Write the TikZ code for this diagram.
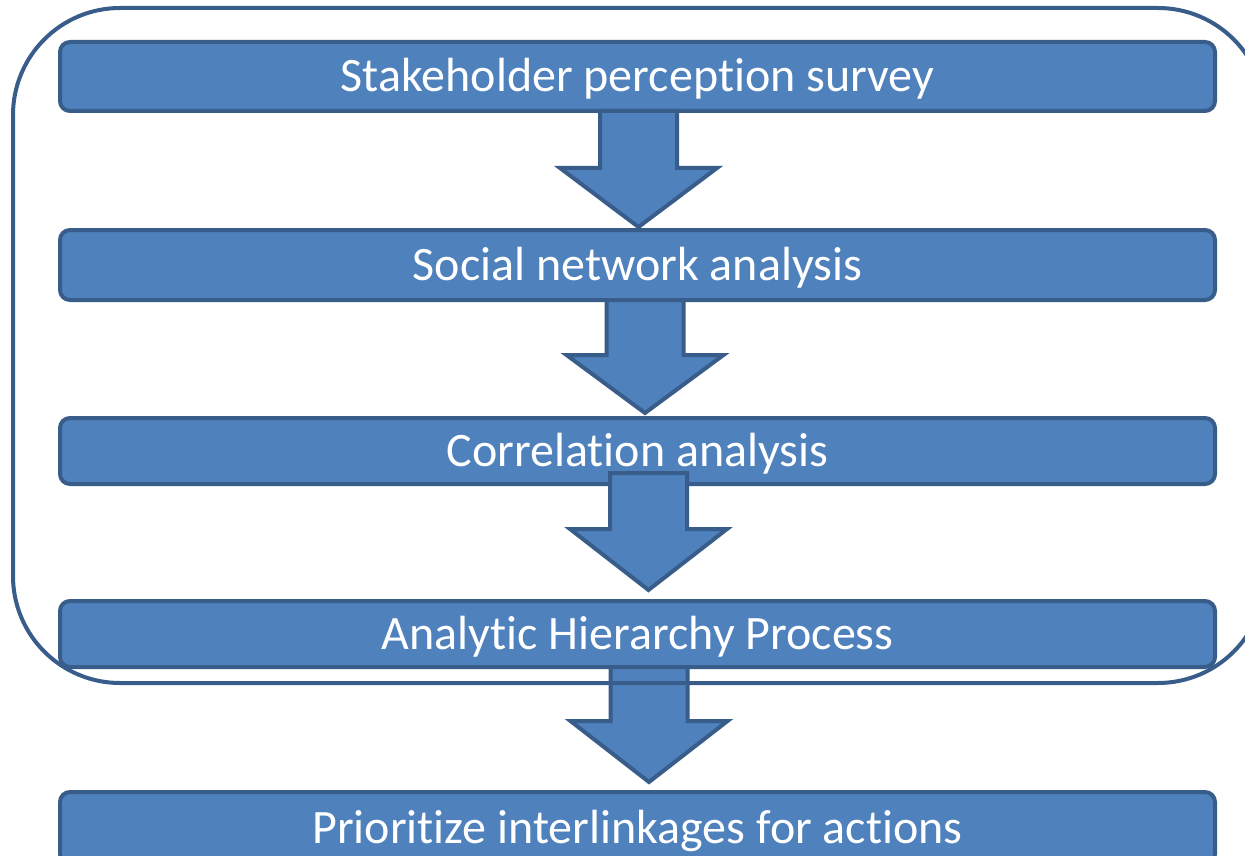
\documentclass[tikz,border=0pt]{standalone}
\usepackage{fontspec}
\setmainfont{Carlito}[Ligatures={NoCommon,NoRequired,NoContextual},Contextuals={NoAlternate}]
\definecolor{boxfill}{HTML}{4F81BD}
\definecolor{boxline}{HTML}{385D8A}
\newcommand{\tiNL}{t\kern0pt i}
\tikzset{
  stepbox/.style={draw=boxline, fill=boxfill, line width=4pt, rounded corners=10pt,
    minimum width=1155pt, inner sep=0pt, text=white, text height=31pt, text depth=0pt,
    font=\fontsize{48}{58}\selectfont},
  barrow/.style={draw=boxline, fill=boxfill, line width=4pt, line join=miter},
  bigframe/.style={draw=boxline, line width=4pt, rounded corners=107pt}
}
\newcommand{\blockarrow}[4]{%
  \draw[barrow] (#1-38.5,#2) -- (#1+38.5,#2) -- (#1+38.5,#3) -- (#1+78.5,#3) -- (#1,#4)
    -- (#1-78.5,#3) -- (#1-38.5,#3) -- cycle;}
\begin{document}
\begin{tikzpicture}[x=1pt, y=-1pt]
\useasboundingbox (0,0) rectangle (1245,856);
\clip (0,0) rectangle (1245,856);
\node[stepbox, minimum height=69pt] (b1) at (637.5,76.5) {Stakeholder perception survey};
\node[stepbox, minimum height=70pt] (b2) at (637.5,265) {Social network analysis};
\node[stepbox, minimum height=66pt] (b3) at (637.5,451) {Correla{\tiNL}on analysis};
\node[stepbox, minimum height=66pt] (b4) at (637.5,634) {Analy{\tiNL}c Hierarchy Process};
\node[stepbox, minimum height=72pt] (b5) at (637.5,828) {Priori{\tiNL}ze interlinkages for ac{\tiNL}ons};
\blockarrow{638.5}{111}{168}{227}
\blockarrow{645}{300}{355}{413}
\blockarrow{648.5}{473}{529}{590}
\blockarrow{649}{667}{721}{782}
\draw[bigframe] (13,8) rectangle (1265,683);
\end{tikzpicture}
\end{document}
